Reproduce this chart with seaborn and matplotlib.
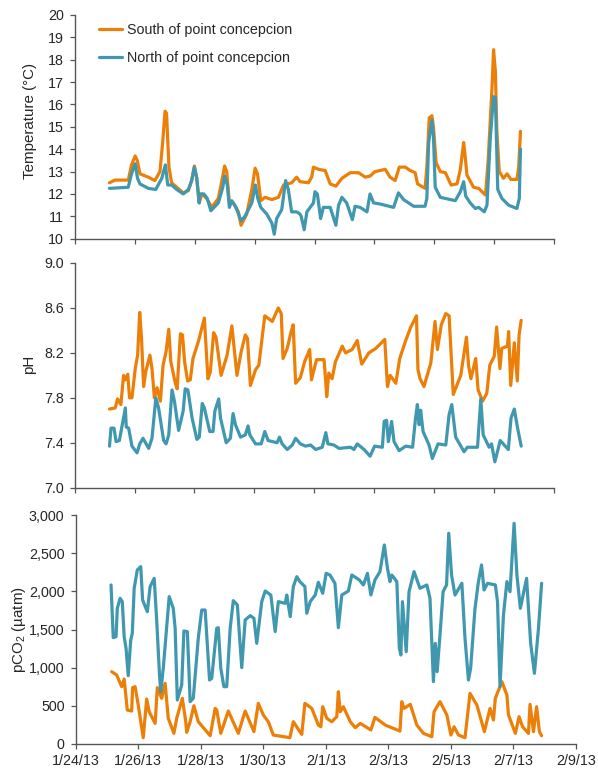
import matplotlib
matplotlib.use("Agg")
import matplotlib.pyplot as plt
import pandas as pd
import seaborn as sns

# x values are days after 1/24/13
south_temp_day = [1.14,1.33,1.77,1.88,2.0,2.07,2.16,2.44,2.66,2.83,2.92,3.0,3.05,3.13,3.22,3.39,3.61,3.78,3.89,3.98,4.06,4.14,4.23,4.39,4.56,4.78,4.93,4.99,5.06,5.15,5.28,5.45,5.54,5.73,5.9,6.01,6.09,6.2,6.34,6.57,6.79,6.96,7.23,7.4,7.51,7.79,7.9,7.96,8.13,8.35,8.52,8.71,8.91,9.19,9.47,9.69,9.85,10.02,10.36,10.52,10.69,10.83,11.03,11.19,11.36,11.44,11.69,11.75,11.83,11.92,11.97,12.06,12.2,12.37,12.56,12.76,12.87,12.98,13.03,13.09,13.31,13.48,13.71,13.8,13.93,13.98,14.04,14.09,14.17,14.31,14.43,14.56,14.76,14.82,14.88]
south_temp = [12.5,12.62,12.62,13.3,13.7,13.5,12.9,12.75,12.6,13.0,14.3,15.7,15.6,13.2,12.5,12.3,12.05,12.15,12.6,13.25,12.7,11.6,12.0,11.8,11.4,11.8,12.8,13.25,13.0,11.6,11.6,11.2,10.6,11.1,12.2,13.15,12.9,11.7,11.85,11.75,11.85,12.4,12.5,12.75,12.55,12.5,12.75,13.2,13.1,13.05,12.45,12.35,12.7,12.95,12.95,12.75,12.8,13.0,13.1,12.75,12.6,13.2,13.2,13.05,12.95,12.45,12.25,13.2,15.4,15.5,15.0,13.4,13.0,12.95,12.4,12.45,13.1,14.3,13.7,12.85,12.3,12.25,11.95,13.5,16.8,18.45,17.5,14.8,13.0,12.7,12.9,12.65,12.65,13.2,14.8]
north_temp_day = [1.14,1.77,1.88,2.0,2.08,2.16,2.44,2.69,2.89,3.01,3.09,3.22,3.39,3.61,3.78,3.89,3.98,4.06,4.14,4.17,4.3,4.41,4.53,4.78,4.93,4.99,5.08,5.15,5.23,5.37,5.54,5.67,5.9,6.02,6.1,6.2,6.4,6.57,6.65,6.73,6.9,7.03,7.12,7.23,7.4,7.51,7.55,7.65,7.74,7.96,8.01,8.09,8.2,8.29,8.52,8.71,8.8,8.91,9.07,9.26,9.35,9.52,9.75,9.85,9.97,10.19,10.64,10.8,10.97,11.31,11.69,11.75,11.81,11.92,11.97,12.03,12.2,12.7,12.87,12.98,13.05,13.2,13.37,13.48,13.67,13.76,13.87,13.98,14.04,14.12,14.26,14.48,14.76,14.84,14.88]
north_temp = [12.25,12.3,12.9,13.35,12.7,12.45,12.25,12.2,12.7,13.3,12.4,12.4,12.2,12.0,12.2,12.6,13.2,12.7,11.6,12.0,12.0,11.8,11.25,11.6,12.3,12.8,12.4,11.4,11.7,11.4,10.8,11.0,11.6,12.4,11.8,11.4,11.1,10.7,10.2,10.9,11.3,12.6,12.2,11.2,11.2,11.1,11.0,10.4,11.2,11.6,12.1,12.0,10.9,11.4,11.4,10.6,11.5,11.85,11.6,10.85,11.45,11.4,11.2,12.0,11.6,11.55,11.4,12.05,11.75,11.45,11.45,11.8,14.3,15.3,14.6,12.3,11.85,11.7,12.1,12.55,11.9,11.6,11.35,11.4,11.2,11.5,14.5,16.35,16.3,12.2,11.8,11.5,11.35,11.8,14.0]

south_ph_day = [1.16,1.35,1.43,1.54,1.63,1.69,1.77,1.83,1.91,2.02,2.1,2.17,2.23,2.3,2.37,2.51,2.58,2.66,2.75,2.86,2.95,3.05,3.14,3.21,3.36,3.42,3.53,3.6,3.67,3.77,3.86,3.95,4.14,4.33,4.45,4.53,4.64,4.72,4.89,5.09,5.25,5.42,5.56,5.7,5.77,5.87,6.04,6.15,6.35,6.6,6.8,6.9,6.96,7.1,7.23,7.3,7.38,7.54,7.68,7.85,7.91,8.08,8.33,8.38,8.42,8.49,8.6,8.71,8.94,9.05,9.27,9.44,9.59,9.83,10.06,10.36,10.45,10.54,10.73,10.86,11.06,11.23,11.42,11.47,11.54,11.67,11.9,12.04,12.12,12.25,12.4,12.51,12.65,12.9,13.09,13.16,13.24,13.4,13.48,13.63,13.77,13.87,14.02,14.1,14.21,14.27,14.46,14.5,14.57,14.69,14.79,14.85,14.92]
south_ph = [7.70,7.71,7.79,7.74,8.0,7.96,8.01,7.8,7.8,8.06,8.18,8.56,8.33,7.9,8.03,8.18,8.06,7.8,7.89,7.77,8.09,8.21,8.41,8.12,7.93,7.88,8.37,8.36,8.12,7.95,7.96,8.15,8.31,8.51,7.97,8.03,8.38,8.34,8.0,8.18,8.44,8.0,8.21,8.36,8.33,7.91,8.05,8.09,8.53,8.48,8.6,8.55,8.15,8.24,8.39,8.45,7.93,7.98,8.12,8.23,7.96,8.14,8.14,7.97,7.81,8.02,7.97,8.12,8.26,8.2,8.23,8.31,8.1,8.2,8.24,8.32,7.9,8.0,7.93,8.15,8.31,8.43,8.53,8.05,7.97,7.9,8.11,8.48,8.23,8.45,8.55,8.53,7.83,8.0,8.34,8.09,7.97,8.15,7.87,7.77,7.84,8.09,8.17,8.43,8.06,8.24,8.26,8.39,7.91,8.29,7.95,8.36,8.49]
north_ph_day = [1.16,1.21,1.31,1.38,1.49,1.69,1.72,1.8,1.91,2.08,2.17,2.28,2.47,2.58,2.71,2.8,2.97,3.05,3.14,3.25,3.33,3.47,3.62,3.69,3.78,3.92,4.08,4.16,4.26,4.33,4.51,4.62,4.68,4.81,4.87,5.06,5.2,5.29,5.37,5.54,5.7,5.79,5.85,6.04,6.23,6.35,6.46,6.76,6.84,6.93,7.1,7.27,7.38,7.54,7.71,7.88,8.05,8.27,8.39,8.46,8.66,8.83,9.22,9.33,9.44,9.67,9.87,10.02,10.28,10.34,10.42,10.48,10.59,10.67,10.84,11.06,11.29,11.39,11.45,11.51,11.56,11.64,11.84,11.95,12.14,12.4,12.51,12.6,12.73,13.01,13.12,13.46,13.57,13.65,13.85,13.93,14.04,14.22,14.49,14.58,14.69,14.8,14.92]
north_ph = [7.37,7.53,7.53,7.41,7.42,7.71,7.54,7.53,7.37,7.31,7.39,7.44,7.35,7.44,7.8,7.71,7.42,7.39,7.47,7.87,7.77,7.51,7.68,7.88,7.87,7.62,7.43,7.45,7.75,7.71,7.5,7.5,7.68,7.79,7.62,7.4,7.44,7.66,7.56,7.45,7.47,7.55,7.47,7.39,7.39,7.5,7.42,7.4,7.45,7.39,7.34,7.38,7.44,7.39,7.37,7.38,7.34,7.36,7.49,7.39,7.38,7.35,7.36,7.34,7.39,7.34,7.28,7.37,7.36,7.59,7.6,7.41,7.59,7.41,7.33,7.37,7.36,7.62,7.74,7.56,7.69,7.5,7.38,7.26,7.39,7.38,7.65,7.74,7.45,7.32,7.36,7.36,7.79,7.47,7.36,7.39,7.23,7.42,7.34,7.62,7.7,7.53,7.37]

south_co2_day = [1.15,1.31,1.47,1.55,1.65,1.79,1.82,1.9,2.0,2.16,2.27,2.35,2.54,2.61,2.75,2.86,2.96,3.14,3.23,3.41,3.52,3.55,3.66,3.78,3.92,4.3,4.46,4.51,4.64,4.88,5.2,5.42,5.7,5.84,6.0,6.16,6.32,6.85,6.96,7.17,7.23,7.33,7.55,7.76,7.84,7.9,8.03,8.19,8.35,8.4,8.46,8.56,8.78,8.94,9.1,9.44,9.57,9.9,10.37,10.43,10.5,10.7,10.91,11.12,11.39,11.46,11.65,11.87,12.0,12.1,12.24,12.45,12.61,12.83,13.07,13.25,13.36,13.42,13.63,13.79,13.84,14.06,14.18,14.29,14.48,14.53,14.64,14.74,14.83,14.9]
south_co2 = [946,902,749,850,442,429,736,749,508,79,587,420,267,736,596,793,333,136,333,596,289,149,289,499,289,105,464,442,136,429,136,429,158,530,377,289,114,79,289,158,123,530,464,245,223,486,333,289,355,683,420,486,289,210,267,180,346,245,166,552,464,517,245,136,92,420,552,377,114,223,114,79,661,508,158,464,311,596,815,640,377,136,355,223,136,517,158,486,158,105]
north_co2_day = [1.13,1.2,1.29,1.33,1.42,1.49,1.55,1.61,1.68,1.76,1.81,1.87,1.97,2.08,2.14,2.29,2.38,2.51,2.59,2.68,2.72,2.8,2.88,2.99,3.12,3.18,3.25,3.39,3.46,3.57,3.61,3.66,3.76,3.92,4.03,4.14,4.28,4.35,4.51,4.56,4.64,4.74,4.83,4.94,5.04,5.17,5.31,5.42,5.58,5.7,5.79,5.95,6.06,6.24,6.38,6.48,6.7,6.75,6.86,6.96,7.07,7.17,7.33,7.39,7.5,7.66,7.76,7.9,8.01,8.13,8.29,8.4,8.51,8.72,8.83,9.07,9.2,9.33,9.44,9.57,9.73,9.87,9.97,10.05,10.11,10.27,10.35,10.4,10.45,10.57,10.66,10.82,11.01,11.23,11.33,11.44,11.5,11.56,11.65,11.75,11.86,11.93,12.02,12.13,12.35,12.45,12.56,12.63,12.77,12.88,12.98,13.06,13.17,13.42,13.49,13.57,13.68,13.79,13.89,14.02,14.11,14.22,14.42,14.55,14.67,14.8,14.9]
north_co2 = [2085,1393,1406,1778,1910,1866,1406,1253,893,1362,1450,2041,2282,2326,1888,1734,2063,2172,1625,902,683,990,1384,1932,1778,1515,574,771,1480,1472,1077,552,596,1384,1756,1756,837,858,1515,1524,990,749,749,1515,1879,1822,999,1625,1682,1647,1318,1866,2006,1953,1472,1866,1844,1953,1669,2063,2194,2129,2063,1713,1866,1953,2120,1975,2238,2216,2107,1524,1953,2006,2216,2151,2085,2238,1953,2151,2260,2610,2304,2129,2216,2129,1253,1165,1866,1209,1997,2260,2041,2085,1910,815,1318,946,1428,1997,2085,2764,2216,1953,2107,1384,837,990,1778,2129,2348,2019,2107,2085,1866,749,1691,2129,1997,2895,2216,1778,2172,1318,924,1515,2107]

date_labels = ["1/24/13","1/26/13","1/28/13","1/30/13","2/1/13","2/3/13","2/5/13","2/7/13","2/9/13"]
date_ticks = [0,2,4,6,8,10,12,14,16]
series_names = ["South of point concepcion","North of point concepcion"]
colors = ["#EC7F07","#3F98AF"]

sns.set_theme(style="white")
plt.rcParams["font.family"] = ["Liberation Sans","DejaVu Sans"]
plt.rcParams["mathtext.default"] = "regular"
ink = "#262626"
W, H = 598, 769
fig = plt.figure(figsize=(W/100, H/100), dpi=100, facecolor="white")

def panel(x0, x1, ytop, ybot):
    return fig.add_axes([x0/W, 1-ybot/H, (x1-x0)/W, (ybot-ytop)/H])

def frame(days, vals, name):
    return pd.DataFrame({"day": days, "value": vals, "series": name})

def draw(ax, s_d, s_v, n_d, n_v, ylim, yticks, ylabels, ylabel, labelx, labely, legend=False):
    df = pd.concat([frame(s_d, s_v, series_names[0]), frame(n_d, n_v, series_names[1])])
    sns.lineplot(data=df, x="day", y="value", hue="series", palette=colors,
                 estimator=None, sort=False, errorbar=None, lw=2.3, ax=ax,
                 legend=legend, solid_joinstyle="round")
    ax.set_xlim(0, 16)
    ax.set_ylim(*ylim)
    ax.set_yticks(yticks, ylabels)
    ax.set_xticks(date_ticks)
    ax.set_xlabel("")
    ax.set_ylabel(ylabel, fontsize=10.9, color=ink)
    ax.yaxis.set_label_coords(labelx, labely)
    for s in ("top","right"):
        ax.spines[s].set_visible(False)
    for s in ("left","bottom"):
        ax.spines[s].set_color("#555555")
        ax.spines[s].set_linewidth(1.0)
    ax.tick_params(axis="both", which="major", direction="out", length=3.5, width=0.9,
                   color="#555555", labelsize=10.3, labelcolor=ink, left=True, bottom=True)
    ax.tick_params(axis="y", pad=4.5)
    ax.tick_params(axis="x", pad=4.2)
    ax.set_facecolor("white")

ax1 = panel(75.3, 554, 15, 238.7)
draw(ax1, south_temp_day, south_temp, north_temp_day, north_temp, (10,20),
     list(range(10,21)), [str(v) for v in range(10,21)], "Temperature (°C)", -0.08, 0.527, legend=True)
ax1.tick_params(axis="x", labelbottom=False)
leg = ax1.legend(loc="upper left", bbox_to_anchor=(0.028, 1.011), frameon=False, fontsize=10.3,
                 handlelength=1.6, handletextpad=0.35, labelspacing=0.98, borderpad=0.2,
                 labelcolor=ink)
leg.set_title(None)

ax2 = panel(74.8, 553.5, 263, 487.7)
draw(ax2, south_ph_day, south_ph, north_ph_day, north_ph, (7,9),
     [7.0,7.4,7.8,8.2,8.6,9.0], ["7.0","7.4","7.8","8.2","8.6","9.0"], "pH", -0.081, 0.549)
ax2.tick_params(axis="x", labelbottom=False)

ax3 = panel(75.7, 576, 515.3, 743.7)
draw(ax3, south_co2_day, south_co2, north_co2_day, north_co2, (0,3000),
     [0,500,1000,1500,2000,2500,3000], ["0","500","1,000","1,500","2,000","2,500","3,000"],
     "pCO$_2$ (µatm)", -0.095, 0.5)
ax3.set_xticks(date_ticks, date_labels)

fig.savefig("out.png", dpi=100, facecolor="white")
